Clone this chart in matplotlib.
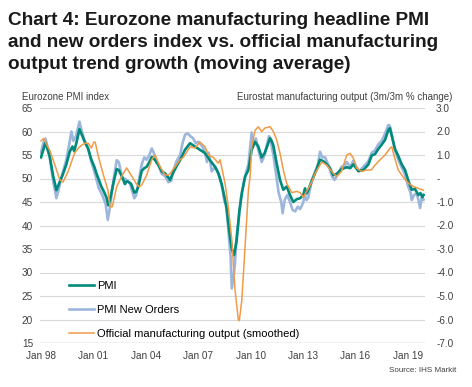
import matplotlib
matplotlib.use('Agg')
import matplotlib.pyplot as plt
from matplotlib.ticker import FixedLocator, FuncFormatter

plt.rcParams['font.family'] = ['Liberation Sans', 'DejaVu Sans']

# ---- data (decimal years) ----
pmi_t = [1998.0, 1998.12, 1998.25, 1998.35, 1998.5, 1998.69, 1998.88, 1999.07, 1999.26, 1999.45,
         1999.64, 1999.8, 1999.9, 2000.05, 2000.2, 2000.3, 2000.5, 2000.69, 2000.88, 2001.05,
         2001.17, 2001.45, 2001.6, 2001.74, 2001.85, 2001.95, 2002.14, 2002.33, 2002.45, 2002.6,
         2002.71, 2002.8, 2002.9, 2003.0, 2003.15, 2003.34, 2003.45, 2003.57, 2003.76, 2003.91,
         2004.05, 2004.2, 2004.34, 2004.53, 2004.72, 2004.91, 2005.1, 2005.29, 2005.38, 2005.57,
         2005.77, 2005.96, 2006.24, 2006.53, 2006.81, 2007.1, 2007.39, 2007.67, 2007.96, 2008.15,
         2008.34, 2008.53, 2008.63, 2008.8, 2008.92, 2009.05, 2009.2, 2009.35, 2009.5, 2009.68,
         2009.87, 2010.06, 2010.25, 2010.44, 2010.63, 2010.8, 2010.92, 2011.11, 2011.2, 2011.3,
         2011.49, 2011.68, 2011.87, 2012.06, 2012.25, 2012.44, 2012.64, 2012.83, 2013.01, 2013.11,
         2013.2, 2013.3, 2013.5, 2013.78, 2013.97, 2014.1, 2014.26, 2014.54, 2014.73, 2014.93,
         2015.21, 2015.5, 2015.7, 2015.88, 2016.16, 2016.45, 2016.74, 2016.93, 2017.12, 2017.31,
         2017.5, 2017.69, 2017.88, 2017.97, 2018.07, 2018.26, 2018.45, 2018.65, 2018.84, 2019.03,
         2019.22, 2019.4, 2019.6, 2019.72, 2019.83, 2019.9]
pmi_v = [54.5, 56.0, 57.6, 56.5, 54.6, 50.6, 47.5, 49.3, 51.0, 53.0,
         55.7, 56.8, 55.8, 58.0, 60.5, 59.6, 57.8, 56.4, 54.0, 52.5,
         51.1, 48.3, 47.2, 46.0, 44.3, 45.5, 49.0, 52.0, 51.8, 50.6,
         49.7, 48.8, 49.4, 49.3, 48.9, 47.0, 47.2, 48.3, 51.6, 52.2,
         52.5, 53.5, 54.6, 53.9, 52.9, 51.5, 51.1, 50.2, 49.7, 51.3,
         52.7, 53.9, 56.1, 57.5, 56.8, 56.1, 55.4, 53.9, 52.5, 51.1,
         48.8, 45.5, 43.3, 38.0, 35.0, 33.7, 36.9, 43.0, 47.0, 50.4,
         51.8, 56.1, 57.8, 56.8, 54.5, 55.4, 56.6, 58.6, 58.0, 57.0,
         53.2, 49.7, 47.6, 48.3, 46.5, 45.0, 45.6, 45.8, 46.5, 47.9,
         46.8, 47.6, 49.5, 52.0, 54.0, 53.8, 53.4, 52.2, 50.7, 51.0,
         52.0, 52.4, 52.2, 53.0, 51.6, 51.8, 53.0, 54.9, 55.2, 56.3,
         57.2, 58.2, 60.3, 60.7, 59.2, 56.3, 54.8, 53.0, 51.8, 49.5,
         47.6, 47.8, 46.5, 46.9, 46.0, 46.5]

orders_t = [1998.0, 1998.12, 1998.25, 1998.35, 1998.5, 1998.69, 1998.88, 1999.0, 1999.26, 1999.45,
            1999.6, 1999.74, 1999.85, 2000.0, 2000.2, 2000.3, 2000.5, 2000.69, 2000.88, 2001.05,
            2001.3, 2001.5, 2001.7, 2001.82, 2001.95, 2002.14, 2002.33, 2002.45, 2002.6, 2002.7,
            2002.8, 2002.95, 2003.1, 2003.34, 2003.45, 2003.57, 2003.76, 2003.91, 2004.05, 2004.2,
            2004.34, 2004.45, 2004.6, 2004.75, 2004.91, 2005.1, 2005.29, 2005.45, 2005.6, 2005.77,
            2005.96, 2006.1, 2006.24, 2006.4, 2006.55, 2006.7, 2006.85, 2007.0, 2007.2, 2007.35,
            2007.5, 2007.6, 2007.77, 2007.96, 2008.1, 2008.25, 2008.4, 2008.5, 2008.6, 2008.75,
            2008.85, 2008.92, 2009.05, 2009.1, 2009.2, 2009.29, 2009.45, 2009.6, 2009.75, 2009.87,
            2010.06, 2010.15, 2010.3, 2010.44, 2010.63, 2010.8, 2010.92, 2011.05, 2011.15, 2011.3,
            2011.45, 2011.6, 2011.75, 2011.83, 2011.95, 2012.1, 2012.25, 2012.4, 2012.55, 2012.7,
            2012.83, 2013.0, 2013.1, 2013.2, 2013.3, 2013.5, 2013.7, 2013.85, 2013.97, 2014.1,
            2014.26, 2014.5, 2014.65, 2014.8, 2014.93, 2015.2, 2015.4, 2015.5, 2015.7, 2015.88,
            2016.05, 2016.2, 2016.45, 2016.74, 2016.93, 2017.12, 2017.31, 2017.5, 2017.69, 2017.88,
            2017.97, 2018.07, 2018.26, 2018.45, 2018.65, 2018.84, 2019.0, 2019.15, 2019.22, 2019.35,
            2019.5, 2019.6, 2019.7, 2019.8, 2019.9]
orders_v = [55.5, 57.5, 58.5, 57.0, 54.5, 49.5, 45.8, 47.5, 51.5, 54.0,
            57.0, 60.0, 58.0, 59.0, 62.1, 60.5, 58.0, 56.5, 53.5, 51.5,
            48.0, 46.5, 44.5, 41.2, 44.0, 49.5, 53.9, 53.5, 51.0, 49.8,
            50.0, 49.5, 48.8, 45.8, 46.5, 49.0, 53.0, 54.5, 54.0, 55.0,
            56.4, 55.5, 53.5, 52.5, 51.0, 50.5, 49.2, 49.5, 52.0, 53.8,
            55.0, 57.5, 59.3, 59.6, 59.0, 58.6, 57.5, 57.8, 57.0, 56.0,
            53.5, 55.5, 51.5, 52.5, 51.5, 50.0, 47.5, 45.0, 44.7, 38.0,
            33.4, 26.6, 30.0, 32.0, 38.0, 40.5, 46.0, 49.0, 51.5, 53.0,
            59.8, 57.5, 58.5, 56.0, 53.5, 55.0, 57.0, 59.0, 58.0, 55.0,
            51.0, 47.0, 45.0, 42.6, 45.5, 46.5, 45.0, 43.3, 43.0, 44.0,
            43.5, 44.8, 46.5, 45.4, 46.0, 49.5, 51.5, 53.0, 55.7, 54.5,
            54.5, 52.5, 50.5, 49.7, 50.5, 52.5, 52.8, 53.5, 52.5, 53.8,
            52.5, 51.5, 52.5, 53.7, 55.5, 56.0, 57.3, 58.0, 59.5, 61.4,
            61.2, 59.5, 56.0, 54.0, 52.3, 50.8, 48.5, 47.0, 45.4, 46.5,
            46.8, 45.5, 43.7, 46.0, 45.5]

output_t = [1998.0, 1998.15, 1998.35, 1998.5, 1998.78, 1999.07, 1999.26, 1999.55, 1999.93, 2000.2,
            2000.5, 2000.7, 2000.88, 2001.03, 2001.1, 2001.26, 2001.55, 2001.83, 2001.95, 2002.08,
            2002.33, 2002.62, 2002.9, 2003.19, 2003.48, 2003.63, 2003.76, 2004.05, 2004.34, 2004.53,
            2004.81, 2005.1, 2005.29, 2005.38, 2005.77, 2005.96, 2006.15, 2006.53, 2006.81, 2007.1,
            2007.39, 2007.58, 2007.86, 2008.15, 2008.25, 2008.53, 2008.72, 2008.92, 2009.1, 2009.29,
            2009.35, 2009.49, 2009.68, 2009.87, 2009.97, 2010.06, 2010.25, 2010.44, 2010.63, 2010.82,
            2011.11, 2011.3, 2011.49, 2011.68, 2011.87, 2012.06, 2012.35, 2012.64, 2012.83, 2013.01,
            2013.2, 2013.5, 2013.68, 2014.07, 2014.35, 2014.64, 2014.92, 2015.2, 2015.5, 2015.69,
            2015.88, 2016.07, 2016.36, 2016.64, 2016.9, 2017.12, 2017.4, 2017.69, 2017.98, 2018.08,
            2018.17, 2018.45, 2018.74, 2019.03, 2019.31, 2019.6, 2019.89]
output_v = [1.6, 1.7, 1.4, 1.2, 0.6, -0.05, -0.15, 0.3, 1.1, 1.35,
            1.5, 1.5, 1.3, 1.55, 1.55, 1.0, 0.2, -0.5, -1.2, -1.2,
            -0.35, 0.1, 0.45, 0.1, -0.25, -0.35, -0.28, 0.15, 0.8, 1.0,
            0.5, 0.15, 0.15, 0.2, 0.6, 0.8, 0.9, 1.35, 1.3, 1.55,
            1.35, 1.0, 0.9, 0.65, 0.8, -0.2, -1.2, -2.6, -4.7, -6.0,
            -6.05, -5.2, -2.9, -0.5, 0.1, 1.35, 2.05, 2.2, 2.0, 2.15,
            2.2, 2.0, 1.64, 1.07, 0.36, -0.2, -0.6, -0.55, -0.6, -0.8,
            -0.55, -0.15, 0.2, 0.7, 0.57, 0.3, 0.08, 0.3, 1.0, 1.07,
            0.86, 0.44, 0.3, 0.36, 0.36, 0.57, 0.79, 1.0, 1.29, 1.35,
            1.07, 0.36, 0.05, -0.2, -0.34, -0.42, -0.5]

year_ticks = [1998, 2001, 2004, 2007, 2010, 2013, 2016, 2019]
year_labels = ['Jan 98', 'Jan 01', 'Jan 04', 'Jan 07', 'Jan 10', 'Jan 13', 'Jan 16', 'Jan 19']

TEAL = '#008a7b'
BLUE = '#9db6dc'
ORANGE = '#f29a45'
GREY = '#404040'

fig = plt.figure(figsize=(4.72, 3.87), dpi=100)
ax = fig.add_axes([40 / 472, 1 - 343 / 387, 385 / 472, 235 / 387])
ax2 = ax.twinx()

l_no, = ax.plot(orders_t, orders_v, color=BLUE, linewidth=1.9, label='PMI New Orders', zorder=2)
l_pmi, = ax.plot(pmi_t, pmi_v, color=TEAL, linewidth=1.9, label='PMI', zorder=3)
l_out, = ax2.plot(output_t, output_v, color=ORANGE, linewidth=1.1,
                  label='Official manufacturing output (smoothed)')

ax.set_xlim(1997.94, 2019.98)
ax.set_ylim(15, 65)
ax2.set_ylim(-7, 3)
ax.yaxis.set_major_locator(FixedLocator(range(15, 66, 5)))
ax2.yaxis.set_major_locator(FixedLocator(range(-7, 4)))
ax2.yaxis.set_major_formatter(FuncFormatter(lambda v, p: '-' if abs(v) < 1e-9 else f'{v:.1f}'))
ax.set_xticks(year_ticks)
ax.set_xticklabels(year_labels)

ax.grid(axis='y', color='#d9d9d9', linewidth=0.8)
ax.set_axisbelow(True)
for a in (ax, ax2):
    for s in ('top', 'left', 'right', 'bottom'):
        a.spines[s].set_visible(False)
ax.axhline(15, color='#bfbfbf', linewidth=1.0, zorder=1)

ax.tick_params(axis='y', length=0, pad=5, labelsize=7.2, labelcolor=GREY)
ax.tick_params(axis='x', length=0, pad=6, labelsize=7.2, labelcolor=GREY)
ax2.tick_params(axis='y', length=0, pad=8, labelsize=7.2, labelcolor=GREY)

ax2.legend(handles=[l_pmi, l_no, l_out], loc='lower left', bbox_to_anchor=(0.075, 0.018),
           frameon=False, fontsize=8, handlelength=2.3, handletextpad=0.2,
           labelspacing=1.25, borderpad=0, borderaxespad=0)

fig.text(8 / 472, 1 - 12 / 387,
         'Chart 4: Eurozone manufacturing headline PMI\n'
         'and new orders index vs. official manufacturing\n'
         'output trend growth (moving average)',
         ha='left', va='top', fontsize=13.7, fontweight='bold', color='#1a1a1a', linespacing=1.37)
fig.text(22 / 472, 1 - 97 / 387, 'Eurozone PMI index', ha='left', va='center',
         fontsize=7.0, color=GREY)
fig.text(452 / 472, 1 - 97 / 387, 'Eurostat manufacturing output (3m/3m % change)',
         ha='right', va='center', fontsize=7.0, color=GREY)
fig.text(456 / 472, 1 - 371 / 387, 'Source: IHS Markit', ha='right', va='center',
         fontsize=5.8, color=GREY)

fig.savefig('out.png', dpi=100)
